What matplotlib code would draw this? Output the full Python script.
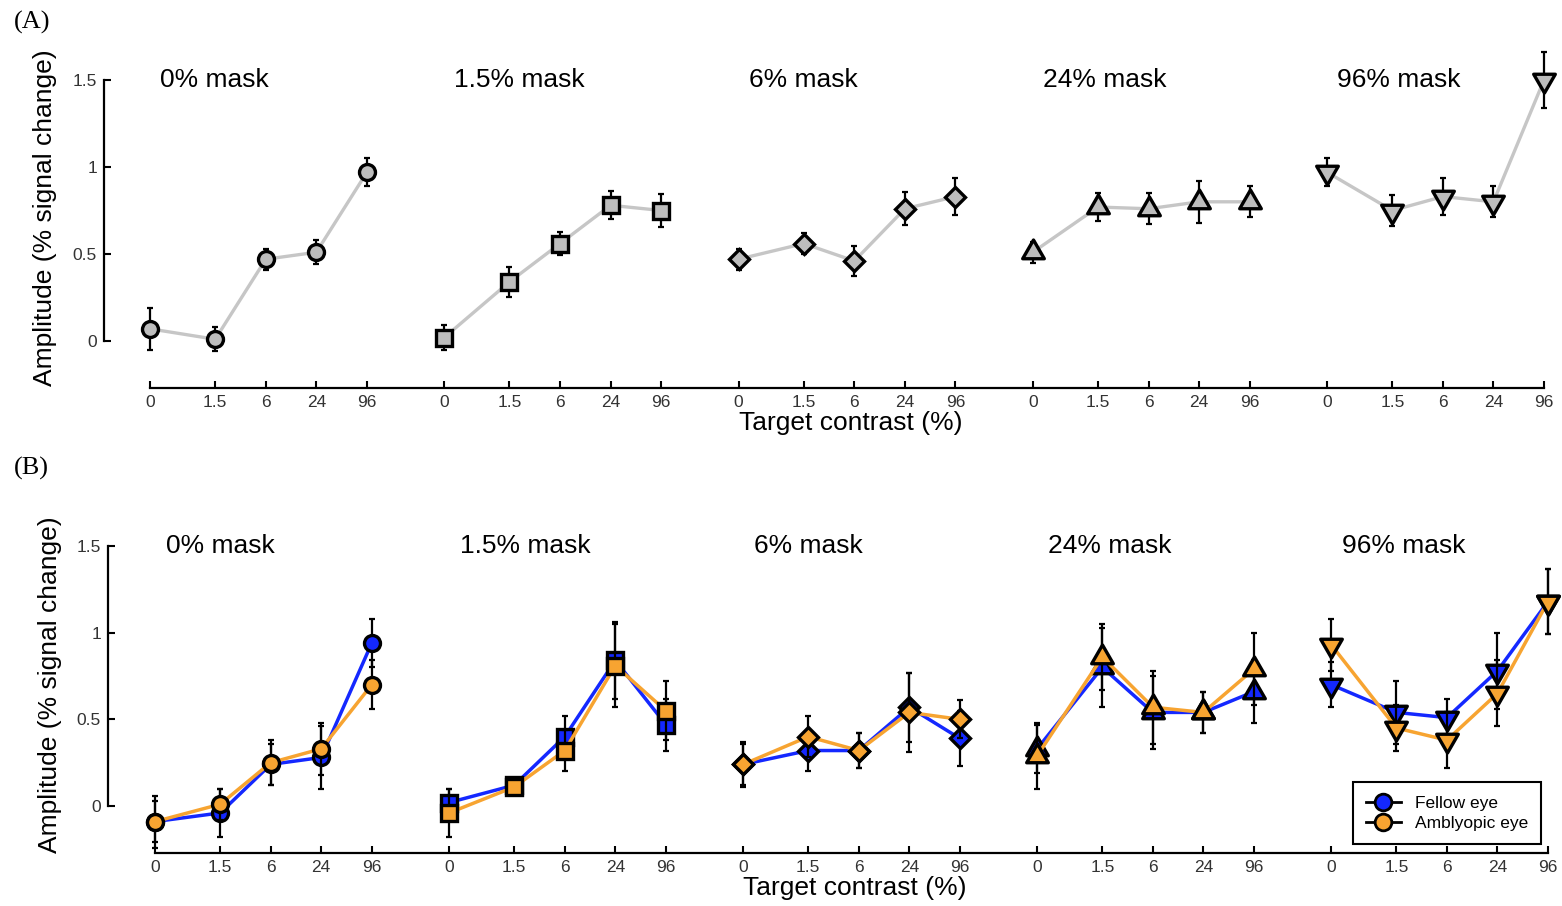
import numpy as np
import matplotlib
matplotlib.use('Agg')
import matplotlib.pyplot as plt
from matplotlib.path import Path
from matplotlib.lines import Line2D

# ---------------- data ----------------
contrast_labels = ['0', '1.5', '6', '24', '96']
mask_titles = ['0% mask', '1.5% mask', '6% mask', '24% mask', '96% mask']

# Panel A (all observers): mean and SE per mask condition
a_mask0_mean = [0.07, 0.01, 0.47, 0.51, 0.97]
a_mask0_err = [0.12, 0.07, 0.06, 0.07, 0.08]
a_mask1_mean = [0.02, 0.34, 0.56, 0.78, 0.75]
a_mask1_err = [0.07, 0.085, 0.065, 0.08, 0.095]
a_mask2_mean = [0.47, 0.56, 0.46, 0.76, 0.83]
a_mask2_err = [0.06, 0.06, 0.085, 0.095, 0.105]
a_mask3_mean = [0.51, 0.77, 0.76, 0.80, 0.80]
a_mask3_err = [0.06, 0.08, 0.09, 0.12, 0.09]
a_mask4_mean = [0.97, 0.75, 0.83, 0.80, 1.50]
a_mask4_err = [0.08, 0.09, 0.105, 0.09, 0.16]

# Panel B: fellow eye
fe_mask0_mean = [-0.09, -0.04, 0.24, 0.28, 0.94]
fe_mask0_err = [0.12, 0.14, 0.12, 0.18, 0.14]
fe_mask1_mean = [0.02, 0.12, 0.40, 0.84, 0.47]
fe_mask1_err = [0.08, 0.03, 0.12, 0.22, 0.15]
fe_mask2_mean = [0.24, 0.32, 0.32, 0.57, 0.39]
fe_mask2_err = [0.12, 0.12, 0.10, 0.20, 0.16]
fe_mask3_mean = [0.33, 0.80, 0.54, 0.54, 0.66]
fe_mask3_err = [0.14, 0.23, 0.21, 0.12, 0.18]
fe_mask4_mean = [0.70, 0.54, 0.51, 0.78, 1.18]
fe_mask4_err = [0.13, 0.18, 0.11, 0.22, 0.19]

# Panel B: amblyopic eye
ae_mask0_mean = [-0.09, 0.01, 0.25, 0.33, 0.70]
ae_mask0_err = [0.15, 0.09, 0.13, 0.15, 0.14]
ae_mask1_mean = [-0.04, 0.11, 0.32, 0.81, 0.55]
ae_mask1_err = [0.14, 0.03, 0.12, 0.24, 0.17]
ae_mask2_mean = [0.24, 0.40, 0.32, 0.54, 0.50]
ae_mask2_err = [0.13, 0.12, 0.10, 0.23, 0.11]
ae_mask3_mean = [0.29, 0.86, 0.57, 0.54, 0.79]
ae_mask3_err = [0.19, 0.19, 0.21, 0.12, 0.21]
ae_mask4_mean = [0.93, 0.45, 0.38, 0.65, 1.18]
ae_mask4_err = [0.15, 0.13, 0.16, 0.19, 0.19]

a_means = [a_mask0_mean, a_mask1_mean, a_mask2_mean, a_mask3_mean, a_mask4_mean]
a_errs = [a_mask0_err, a_mask1_err, a_mask2_err, a_mask3_err, a_mask4_err]
fe_means = [fe_mask0_mean, fe_mask1_mean, fe_mask2_mean, fe_mask3_mean, fe_mask4_mean]
fe_errs = [fe_mask0_err, fe_mask1_err, fe_mask2_err, fe_mask3_err, fe_mask4_err]
ae_means = [ae_mask0_mean, ae_mask1_mean, ae_mask2_mean, ae_mask3_mean, ae_mask4_mean]
ae_errs = [ae_mask0_err, ae_mask1_err, ae_mask2_err, ae_mask3_err, ae_mask4_err]

# ---------------- style ----------------
plt.rcParams['font.family'] = ['Liberation Sans', 'DejaVu Sans']
GRAY_FILL = '#bdbdbd'
GRAY_LINE = '#c6c6c6'
BLUE = '#1428ff'
ORANGE = '#f7a431'
TICK_COLOR = '#333333'

# custom triangles centred on their centroid (as in MATLAB)
tri_up = Path([(0, 1), (-0.866, -0.5), (0.866, -0.5), (0, 1)],
              [Path.MOVETO, Path.LINETO, Path.LINETO, Path.CLOSEPOLY])
tri_dn = Path([(0, -1), (-0.866, 0.5), (0.866, 0.5), (0, -1)],
              [Path.MOVETO, Path.LINETO, Path.LINETO, Path.CLOSEPOLY])
markers = ['o', 's', 'D', tri_up, tri_dn]
msizes = [11.5, 11.0, 10.5, 18.0, 18.0]

# x layout: within-group position (log-like contrast scale) and group spacing
within = np.array([0.0, 1.29, 2.29, 3.29, 4.29])
gap = 5.82
last = 4 * gap + within[-1]

fig = plt.figure(figsize=(15.62, 9.06), dpi=100)
W, H = 1562.0, 906.0


def setup(ax, x0px, lastpx, spine_px, right_px, y0px, yunit, bottom_px, top_px):
    s = (lastpx - x0px) / last
    ax.set_xlim((spine_px - x0px) / s, (right_px - x0px) / s)
    ax.set_ylim(-(bottom_px - y0px) / yunit, (y0px - top_px) / yunit)
    for sp in ['top', 'right']:
        ax.spines[sp].set_visible(False)
    ax.spines['left'].set_bounds(0, 1.5)
    ax.spines['bottom'].set_bounds(0, last)
    for sp in ['left', 'bottom']:
        ax.spines[sp].set_linewidth(1.6)
    ticks = np.concatenate([g * gap + within for g in range(5)])
    ax.set_xticks(ticks)
    ax.set_xticklabels(contrast_labels * 5)
    ax.set_yticks([0, 0.5, 1, 1.5])
    ax.set_yticklabels(['0', '0.5', '1', '1.5'])
    ax.tick_params(direction='in', length=5, width=1.5, labelsize=12.5,
                   labelcolor=TICK_COLOR, pad=5)
    ax.patch.set_visible(False)


# ---------------- Panel A ----------------
axA = fig.add_axes([104 / W, 1 - 388 / H, (1556 - 104) / W, (388 - 40) / H])
setup(axA, 150, 1544, 104, 1556, 341, 174.0, 388, 40)
for g in range(5):
    x = g * gap + within
    axA.errorbar(x, a_means[g], yerr=a_errs[g], fmt='none', ecolor='black',
                 elinewidth=1.6, capsize=2.5, capthick=1.6, zorder=2, clip_on=False)
    axA.plot(x, a_means[g], color=GRAY_LINE, lw=2.4, zorder=3, clip_on=False)
    axA.plot(x, a_means[g], ls='none', marker=markers[g], ms=msizes[g],
             mfc=GRAY_FILL, mec='black', mew=2.4, zorder=4, clip_on=False)
    axA.text(g * gap + 0.2, 1.50, mask_titles[g], ha='left', va='center', fontsize=19)

# ---------------- Panel B ----------------
axB = fig.add_axes([108 / W, 1 - 853 / H, (1560 - 108) / W, (853 - 520) / H])
setup(axB, 155, 1548, 108, 1560, 806, 173.3, 853, 520)
for g in range(5):
    x = g * gap + within
    z = 2
    for means, errs, col in [(fe_means, fe_errs, BLUE), (ae_means, ae_errs, ORANGE)]:
        axB.errorbar(x, means[g], yerr=errs[g], fmt='none', ecolor='black',
                     elinewidth=1.6, capsize=2.5, capthick=1.6, zorder=z, clip_on=False)
        axB.plot(x, means[g], color=col, lw=2.5, zorder=z + 1, clip_on=False)
        axB.plot(x, means[g], ls='none', marker=markers[g], ms=msizes[g],
                 mfc=col, mec='black', mew=2.4, zorder=z + 2, clip_on=False)
        z += 3
    axB.text(g * gap + 0.22, 1.50, mask_titles[g], ha='left', va='center', fontsize=19)

handles = [Line2D([], [], color='black', lw=2, marker='o', ms=12, mfc=BLUE, mec='black', mew=2),
           Line2D([], [], color='black', lw=2, marker='o', ms=12, mfc=ORANGE, mec='black', mew=2)]
leg = axB.legend(handles, ['Fellow eye', 'Amblyopic eye'], loc='lower right',
                 bbox_to_anchor=(1541 / W, (906 - 844) / H), bbox_transform=fig.transFigure,
                 borderaxespad=0, fancybox=False, framealpha=1, edgecolor='black',
                 fontsize=12.5, handlelength=2.0, labelspacing=0.3, borderpad=0.75,
                 handletextpad=0.8)
leg.get_frame().set_linewidth(1.5)
leg.set_zorder(20)

# ---------------- labels ----------------
fig.text(45 / W, 1 - 218 / H, 'Amplitude (% signal change)', rotation=90,
         ha='center', va='center', fontsize=19)
fig.text(50 / W, 1 - 685 / H, 'Amplitude (% signal change)', rotation=90,
         ha='center', va='center', fontsize=19)
fig.text(851 / W, 1 - 423 / H, 'Target contrast (%)', ha='center', va='center', fontsize=19)
fig.text(855 / W, 1 - 888 / H, 'Target contrast (%)', ha='center', va='center', fontsize=19)
fig.text(14 / W, 1 - 22 / H, '(A)', ha='left', va='center', fontsize=19,
         family=['Liberation Serif', 'DejaVu Serif'])
fig.text(14 / W, 1 - 468 / H, '(B)', ha='left', va='center', fontsize=19,
         family=['Liberation Serif', 'DejaVu Serif'])

fig.savefig('out.png', dpi=100)
